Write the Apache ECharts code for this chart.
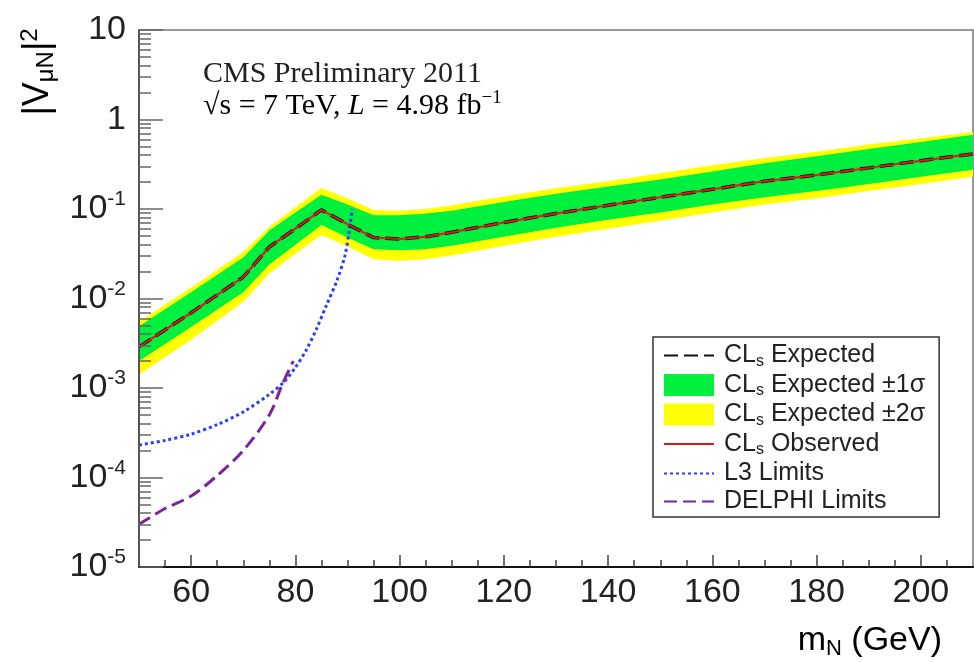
<!DOCTYPE html>
<html><head><meta charset="utf-8">
<script src="https://cdn.jsdelivr.net/npm/echarts@6/dist/echarts.min.js"></script>
<style>html,body{margin:0;padding:0;background:#fff}#c{width:974px;height:662px}</style>
</head><body><div id="c"></div>
<script>
// ---- data ----
const massPoints = [50,60,70,75,80,85,90,95,100,105,110,120,130,140,150,160,170,180,190,200,210];
const expected   = [0.00288,0.00692,0.0174,0.0376,0.0603,0.0977,0.0676,0.0479,0.0462,0.0490,0.0550,0.0708,0.0891,0.110,0.135,0.166,0.204,0.240,0.288,0.347,0.412];
const observed   = [0.00288,0.00692,0.0174,0.0376,0.0603,0.0977,0.0676,0.0479,0.0462,0.0490,0.0550,0.0708,0.0891,0.110,0.135,0.166,0.204,0.240,0.288,0.347,0.412];
const sigma1High = [0.0049,0.01175,0.0288,0.0575,0.0912,0.1445,0.112,0.0851,0.0851,0.0891,0.0955,0.120,0.148,0.178,0.214,0.263,0.324,0.389,0.468,0.562,0.676];
const sigma1Low  = [0.0020,0.00479,0.01175,0.0240,0.0398,0.0661,0.0479,0.0355,0.0347,0.0355,0.0389,0.0490,0.0617,0.0759,0.0912,0.112,0.135,0.1585,0.1905,0.229,0.275];
const sigma2High = [0.0055,0.0132,0.0331,0.0631,0.1047,0.172,0.132,0.0977,0.0955,0.100,0.110,0.138,0.170,0.204,0.251,0.309,0.372,0.437,0.525,0.617,0.724];
const sigma2Low  = [0.00141,0.00347,0.00912,0.01905,0.0316,0.0513,0.0380,0.0275,0.0263,0.0275,0.0302,0.0389,0.0490,0.0603,0.0741,0.0912,0.112,0.132,0.1585,0.1905,0.229];
const l3Mass  = [50,55,60,65,70,75,78,80,82,84,86,88,89.5,90.3,90.9];
const l3Limit = [2.3e-4,2.6e-4,3.05e-4,3.9e-4,5.4e-4,8.5e-4,1.2e-3,1.7e-3,2.6e-3,4.5e-3,8.5e-3,0.016,0.030,0.055,0.10];
const delphiMass  = [50,55,60,65,70,75,77.5,79.6];
const delphiLimit = [3.0e-5,4.5e-5,6.2e-5,1.05e-4,2.0e-4,5.0e-4,1.1e-3,2.0e-3];
const xTickLabels = [60,80,100,120,140,160,180,200];
const xMinorTicks = [55,65,70,75,85,90,95,105,110,115,125,130,135,145,150,155,165,170,175,185,190,195,205];
const yTickValues = [1e-5,1e-4,1e-3,1e-2,1e-1,1,10];
const yMinorTicks = [2e-5,3e-5,4e-5,5e-5,6e-5,7e-5,8e-5,9e-5,2e-4,3e-4,4e-4,5e-4,6e-4,7e-4,8e-4,9e-4,
  2e-3,3e-3,4e-3,5e-3,6e-3,7e-3,8e-3,9e-3,0.02,0.03,0.04,0.05,0.06,0.07,0.08,0.09,0.2,0.3,0.4,0.5,0.6,0.7,0.8,0.9,2,3,4,5,6,7,8,9];
const legendNames = ['CLs Expected','CLs Expected ±1σ','CLs Expected ±2σ','CLs Observed','L3 Limits','DELPHI Limits'];

const SANS = 'Liberation Sans', SERIF = 'Liberation Serif';
const chart = echarts.init(document.getElementById('c'), null, {renderer:'canvas'});

function band(name, lo, hi, color, z) {
  return {
    type:'custom', name, z, clip:false,
    data: massPoints.map((m,i)=>[m, lo[i], hi[i]]),
    encode:{x:0, y:[1,2]},
    itemStyle:{color},
    renderItem(params, api) {
      if (params.dataIndex !== 0) return null;
      const pts = [];
      for (let i=0;i<massPoints.length;i++) pts.push(api.coord([massPoints[i], hi[i]]));
      for (let i=massPoints.length-1;i>=0;i--) pts.push(api.coord([massPoints[i], lo[i]]));
      return {type:'polygon', shape:{points:pts}, style:{fill:color}};
    }
  };
}
const pairs = (xs, ys) => xs.map((x,i)=>[x, ys[i]]);

function yLabel(v) {
  const e = Math.round(Math.log10(v));
  if (e === 1) return '{b|10}';
  if (e === 0) return '{b|1}';
  return '{b|10}{p|' + e + '}';
}
const noSym = {opacity:0};

const option = {
  animation:false,
  backgroundColor:'#fff',
  grid:{left:139, top:30, width:834, height:537, show:true, borderColor:'#777', borderWidth:1.5},
  xAxis:[
    {type:'value', min:50, max:210, position:'bottom', z:10,
     axisLine:{show:true, onZero:false, lineStyle:{color:'#111', width:2}},
     axisTick:{show:true, inside:true, length:12, customValues:xTickLabels, lineStyle:{color:'#444', width:1.5}},
     axisLabel:{customValues:xTickLabels, margin:9, fontSize:34, fontFamily:SANS, color:'#222'},
     splitLine:{show:false}},
    {type:'value', min:50, max:210, position:'bottom', z:10,
     axisLine:{show:false}, axisLabel:{show:false},
     axisTick:{show:true, inside:true, length:7, customValues:xMinorTicks, lineStyle:{color:'#444', width:1.5}},
     splitLine:{show:false}}
  ],
  yAxis:[
    {type:'log', logBase:10, min:1e-5, max:10, position:'left', z:10,
     axisLine:{show:true, lineStyle:{color:'#555', width:2}},
     axisTick:{show:true, inside:true, length:24, customValues:yTickValues, lineStyle:{color:'#666', width:1.5}},
     axisLabel:{customValues:yTickValues, margin:13, formatter:yLabel,
       rich:{b:{fontSize:34, fontFamily:SANS, color:'#222', lineHeight:40},
             p:{fontSize:21, fontFamily:SANS, color:'#222', lineHeight:22, verticalAlign:'top'}}},
     splitLine:{show:false}},
    {type:'log', logBase:10, min:1e-5, max:10, position:'left', z:10,
     axisLine:{show:false}, axisLabel:{show:false},
     axisTick:{show:true, inside:true, length:12, customValues:yMinorTicks, lineStyle:{color:'#666', width:1.5}},
     splitLine:{show:false}}
  ],
  legend:{
    orient:'vertical', left:653, top:337,
    data:[
      {name:legendNames[0], itemStyle:noSym},
      {name:legendNames[1], icon:'rect'},
      {name:legendNames[2], icon:'rect'},
      {name:legendNames[3], itemStyle:noSym},
      {name:legendNames[4], itemStyle:noSym},
      {name:legendNames[5], itemStyle:noSym}
    ],
    itemWidth:50, itemHeight:22, itemGap:3,
    padding:[6,14,3,10],
    borderColor:'#333', borderWidth:1.5, backgroundColor:'#fff',
    selectedMode:false,
    formatter:n => n.startsWith('CLs') ? '{f|CL}{s|s}{a|' + n.slice(3) + '}' : '{f|' + n + '}',
    textStyle:{rich:{
      f:{fontSize:25, fontFamily:SANS, color:'#222', lineHeight:28, padding:[0,0,0,5]},
      a:{fontSize:25, fontFamily:SANS, color:'#222', lineHeight:28},
      s:{fontSize:16, fontFamily:SANS, color:'#222', lineHeight:18, verticalAlign:'bottom'}
    }}
  },
  graphic:[
    {type:'text', x:203, y:74, z:20, style:{text:'CMS Preliminary 2011', fontSize:30, fontFamily:SERIF, fill:'#222', verticalAlign:'middle'}},
    {type:'text', x:203, y:106, z:20, style:{text:'{n|√s = 7 TeV, }{i|L}{n| = 4.98 fb}{p|−1}', verticalAlign:'middle',
      rich:{n:{fontSize:30, fontFamily:SERIF, color:'#222', lineHeight:34},
            i:{fontSize:30, fontFamily:SERIF, fontStyle:'italic', color:'#222', lineHeight:34},
            p:{fontSize:19, fontFamily:SERIF, color:'#222', lineHeight:20, verticalAlign:'top'}}}},
    {type:'text', x:38, y:72, rotation:Math.PI/2, z:20, style:{text:'{n||V}{b|μN}{n||}{p|2}', align:'center', verticalAlign:'middle',
      rich:{n:{fontSize:36, fontFamily:SANS, color:'#222', lineHeight:40},
            b:{fontSize:24, fontFamily:SANS, color:'#222', lineHeight:24, verticalAlign:'bottom'},
            p:{fontSize:24, fontFamily:SANS, color:'#222', lineHeight:24, verticalAlign:'top'}}}},
    {type:'text', x:942, y:641, z:20, style:{text:'{n|m}{b|N}{n| (GeV)}', align:'right', verticalAlign:'middle',
      rich:{n:{fontSize:34, fontFamily:SANS, color:'#222', lineHeight:38},
            b:{fontSize:22, fontFamily:SANS, color:'#222', lineHeight:22, verticalAlign:'bottom'}}}}
  ],
  series:[
    band(legendNames[2], sigma2Low, sigma2High, '#ffff00', 1),
    band(legendNames[1], sigma1Low, sigma1High, '#00f040', 2),
    {type:'line', name:legendNames[4], z:3, data:pairs(l3Mass, l3Limit), symbol:'none', smooth:0.3,
     itemStyle:{color:'#2a3cff'}, lineStyle:{color:'#2a3cff', width:3, type:[3,3]}},
    {type:'line', name:legendNames[5], z:3, data:pairs(delphiMass, delphiLimit), symbol:'none', smooth:0.3,
     itemStyle:{color:'#7a22a0'}, lineStyle:{color:'#7a22a0', width:3, type:[13,6]}},
    {type:'line', name:legendNames[0], z:4, data:pairs(massPoints, expected), symbol:'none',
     itemStyle:{color:'#111'}, lineStyle:{color:'#111', width:3.5, type:[14,6]}},
    {type:'line', name:legendNames[3], z:5, data:pairs(massPoints, observed), symbol:'none',
     itemStyle:{color:'#dd1a1a'}, lineStyle:{color:'#dd1a1a', width:2}}
  ]
};
chart.setOption(option);
</script></body></html>
